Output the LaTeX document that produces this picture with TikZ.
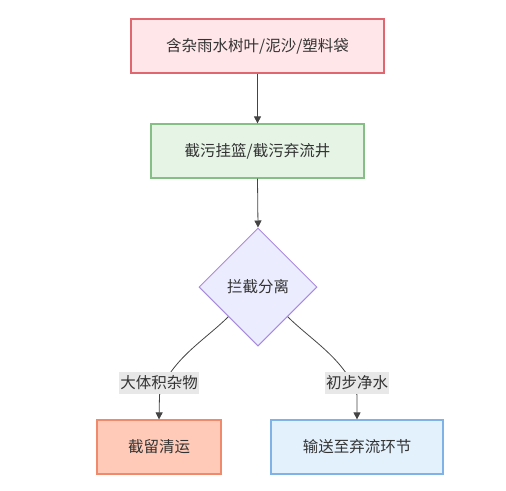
\documentclass[tikz,border=0pt]{standalone}
\usepackage{fontspec}
\setmainfont{Noto Sans CJK SC}
\usetikzlibrary{shapes.geometric,arrows.meta}

\definecolor{txtgray}{HTML}{333333}
\definecolor{linegray}{HTML}{444444}
\definecolor{rainfill}{HTML}{FFE6E9}
\definecolor{raindraw}{HTML}{E0666F}
\definecolor{basketfill}{HTML}{E6F4E6}
\definecolor{basketdraw}{HTML}{86BF86}
\definecolor{sepfill}{HTML}{ECECFF}
\definecolor{sepdraw}{HTML}{A98BDE}
\definecolor{cleanfill}{HTML}{FFCBB8}
\definecolor{cleandraw}{HTML}{F08A6C}
\definecolor{sendfill}{HTML}{E3F1FD}
\definecolor{senddraw}{HTML}{7FB2E6}
\definecolor{lblbg}{HTML}{E8E8E8}

\begin{document}
\begin{tikzpicture}[x=1pt, y=-1pt,
    box/.style={draw, line width=1.2pt, minimum height=54pt, inner sep=0pt,
                text=txtgray, font=\fontsize{15.5}{18}\selectfont},
    flow/.style={draw=linegray, line width=0.8pt, -{Triangle[length=7pt,width=7pt]}},
    lbl/.style={fill=lblbg, inner xsep=1pt, inner ysep=4pt,
                text=txtgray, font=\fontsize{15.5}{18}\selectfont}]
    \useasboundingbox (0,0) rectangle (506,490);

    % Main flow
    \node[box, fill=rainfill, draw=raindraw, minimum width=253pt] (rain) at (257.5,46) {含杂雨水树叶/泥沙/塑料袋};
    \node[box, fill=basketfill, draw=basketdraw, minimum width=213pt] (basket) at (257.5,151) {截污挂篮/截污弃流井};
    \node[box, diamond, aspect=1, fill=sepfill, draw=sepdraw, line width=1pt,
          minimum width=118pt, minimum height=118pt] (sep) at (258,287) {拦截分离};

    % Outcomes
    \node[box, fill=cleanfill, draw=cleandraw, minimum width=124pt] (clean) at (159,447) {截留清运};
    \node[box, fill=sendfill, draw=senddraw, minimum width=172pt] (send) at (357,447) {输送至弃流环节};

    % Straight arrows
    \draw[flow] (rain.south) -- (basket.north);
    \draw[flow] (basket.south) -- (sep.north);

    % Branches
    \coordinate (bigbend) at (159.5,395);
    \coordinate (finebend) at (357,395);
    \draw[flow] (sep.south west) .. controls (205,340) and (170,360) .. (bigbend) -- (clean.north);
    \draw[flow] (sep.south east) .. controls (311,340) and (346,360) .. (finebend) -- (send.north);

    % Branch labels
    \node[lbl] (biglbl) at (159,383) {大体积杂物};
    \node[lbl] (finelbl) at (357,383) {初步净水};
\end{tikzpicture}
\end{document}
